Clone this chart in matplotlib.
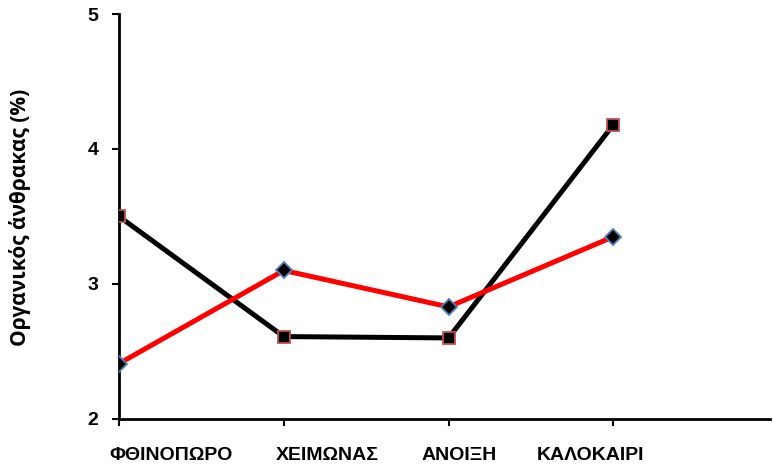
import matplotlib
matplotlib.use("Agg")
import matplotlib.pyplot as plt
from matplotlib.transforms import ScaledTranslation

categories = ["ΦΘΙΝΟΠΩΡΟ", "ΧΕΙΜΩΝΑΣ", "ΑΝΟΙΞΗ", "ΚΑΛΟΚΑΙΡΙ"]
series_red = [2.41, 3.10, 2.83, 3.35]
series_black = [3.50, 2.61, 2.60, 4.18]
yticks = [2, 3, 4, 5]

# horizontal shift of each category label's left edge from its tick (pixels)
label_shift_px = [-10, -8, -27, -77]

plt.rcParams['font.family'] = ['Liberation Sans', 'DejaVu Sans']

fig = plt.figure(figsize=(7.73, 4.67), dpi=100)
ax = fig.add_axes([0.154, 0.103, 0.842, 0.867])

x = list(range(len(categories)))
ax.plot(x, series_black, color='black', lw=3.6, marker='s', markersize=8.5,
        markerfacecolor='black', markeredgecolor='#c0504d', markeredgewidth=1.3, zorder=3)
ax.plot(x, series_red, color='#ff0000', lw=3.6, marker='D', markersize=8,
        markerfacecolor='black', markeredgecolor='#4f81bd', markeredgewidth=1.3, zorder=4)

ax.set_xlim(0, 3.95)
ax.set_ylim(2, 5)
ax.set_yticks(yticks)
ax.set_yticklabels([str(v) for v in yticks], fontsize=14, fontweight='bold')
ax.set_xticks(x)
ax.set_xticklabels(categories, fontsize=14, fontweight='bold', ha='left')
ax.tick_params(axis='both', direction='out', length=5, width=1.5, colors='black')
ax.tick_params(axis='x', pad=15)
ax.tick_params(axis='y', pad=10)

for lbl, dx in zip(ax.get_xticklabels(), label_shift_px):
    lbl.set_transform(lbl.get_transform() + ScaledTranslation(dx / 100, 0, fig.dpi_scale_trans))

for s in ['top', 'right']:
    ax.spines[s].set_visible(False)
ax.spines['left'].set_linewidth(2)
ax.spines['bottom'].set_linewidth(2)

fig.text(20.5 / 773, 1 - 217.5 / 467, "Οργανικός άνθρακας (%)", rotation=90,
         ha='center', va='center', fontsize=15, fontweight='bold',
         family=['Open Sans', 'DejaVu Sans'])

fig.savefig("out.png", dpi=100)
